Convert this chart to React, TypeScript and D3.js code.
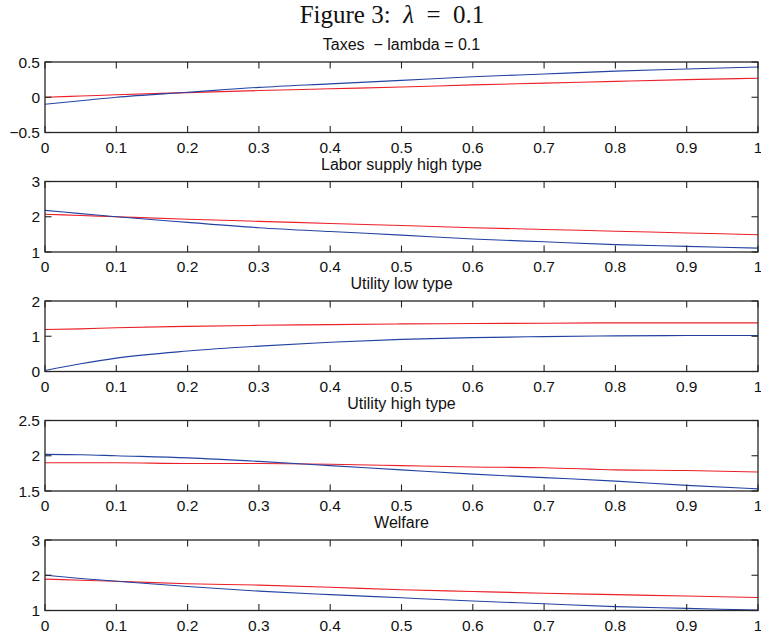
import * as d3 from "d3";
import { useEffect } from "react";

const xs = [0, 0.05, 0.1, 0.2, 0.3, 0.4, 0.5, 0.6, 0.7, 0.8, 0.9, 1];
const xTicks = [0, 0.1, 0.2, 0.3, 0.4, 0.5, 0.6, 0.7, 0.8, 0.9, 1];

const panelTitles = [
  "Taxes  \u2212 lambda = 0.1",
  "Labor supply high type",
  "Utility low type",
  "Utility high type",
  "Welfare",
];
const yDomains: [number, number][] = [
  [-0.5, 0.5],
  [1, 3],
  [0, 2],
  [1.5, 2.5],
  [1, 3],
];
const yTicks = [
  [-0.5, 0, 0.5],
  [1, 2, 3],
  [0, 1, 2],
  [1.5, 2, 2.5],
  [1, 2, 3],
];

const taxesBlue = [-0.1, -0.05, 0.0, 0.07, 0.14, 0.19, 0.24, 0.29, 0.33, 0.37, 0.4, 0.43];
const taxesRed = [0, 0.017, 0.035, 0.065, 0.095, 0.12, 0.145, 0.175, 0.2, 0.225, 0.25, 0.27];
const laborBlue = [2.18, 2.09, 2.0, 1.84, 1.69, 1.58, 1.48, 1.37, 1.29, 1.21, 1.16, 1.11];
const laborRed = [2.07, 2.035, 2.0, 1.93, 1.87, 1.81, 1.75, 1.69, 1.64, 1.59, 1.54, 1.49];
const utilLowBlue = [0.03, 0.22, 0.38, 0.58, 0.72, 0.83, 0.91, 0.96, 0.99, 1.01, 1.02, 1.02];
const utilLowRed = [1.19, 1.21, 1.24, 1.28, 1.31, 1.33, 1.35, 1.36, 1.37, 1.38, 1.38, 1.38];
const utilHighBlue = [2.02, 2.015, 2.0, 1.97, 1.92, 1.86, 1.8, 1.74, 1.69, 1.64, 1.58, 1.53];
const utilHighRed = [1.9, 1.9, 1.9, 1.89, 1.89, 1.88, 1.86, 1.84, 1.83, 1.8, 1.79, 1.77];
const welfareBlue = [2.0, 1.91, 1.83, 1.68, 1.55, 1.45, 1.36, 1.27, 1.19, 1.11, 1.06, 1.01];
const welfareRed = [1.89, 1.86, 1.83, 1.76, 1.72, 1.66, 1.59, 1.54, 1.49, 1.45, 1.41, 1.37];

const blueSeries = [taxesBlue, laborBlue, utilLowBlue, utilHighBlue, welfareBlue];
const redSeries = [taxesRed, laborRed, utilLowRed, utilHighRed, welfareRed];

const BLUE = "#2343a3";
const RED = "#ec2028";
const AXIS = "#262626";
const sans = "'Liberation Sans', Arial, Helvetica, sans-serif";

const width = 761;
const height = 638;
const plotLeft = 45;
const plotRight = 758;
const firstTop = 62;
const panelStep = 119.5;
const panelHeight = 70.5;
const tickLen = 6.5;

const fmt = d3.format("");

export default function App() {
  useEffect(() => {
    document.body.style.margin = "0";
  }, []);

  const x = d3.scaleLinear().domain([0, 1]).range([plotLeft, plotRight]);

  return (
    <svg width={width} height={height} style={{ display: "block", background: "#fff" }}>
      <text
        x={392}
        y={23}
        textAnchor="middle"
        fontFamily="'Liberation Serif', 'DejaVu Serif', serif"
        fontSize={25}
        fill="#111"
        style={{ whiteSpace: "pre" }}
      >
        {"Figure 3:  "}
        <tspan fontStyle="italic">{"\u03bb"}</tspan>
        {"  =  0.1"}
      </text>
      {panelTitles.map((title, i) => {
        const top = firstTop + i * panelStep;
        const bottom = top + panelHeight;
        const y = d3.scaleLinear().domain(yDomains[i]).range([bottom, top]);
        const line = d3
          .line<number>()
          .x((_, j) => x(xs[j]))
          .y((d) => y(d))
          .curve(d3.curveMonotoneX);
        return (
          <g key={title}>
            <text
              x={(plotLeft + plotRight) / 2}
              y={top - 12}
              textAnchor="middle"
              fontFamily={sans}
              fontSize={16}
              fill="#111"
              style={{ whiteSpace: "pre" }}
            >
              {title}
            </text>
            <path d={line(redSeries[i]) ?? ""} fill="none" stroke={RED} strokeWidth={1.1} />
            <path d={line(blueSeries[i]) ?? ""} fill="none" stroke={BLUE} strokeWidth={1.1} />
            <rect
              x={plotLeft}
              y={top}
              width={plotRight - plotLeft}
              height={panelHeight}
              fill="none"
              stroke={AXIS}
              strokeWidth={1.3}
            />
            {xTicks.map((t) => (
              <g key={t}>
                <line x1={x(t)} x2={x(t)} y1={bottom} y2={bottom - tickLen} stroke={AXIS} strokeWidth={1.1} />
                <line x1={x(t)} x2={x(t)} y1={top} y2={top + tickLen} stroke={AXIS} strokeWidth={1.1} />
                <text
                  x={x(t)}
                  y={bottom + 20}
                  textAnchor="middle"
                  fontFamily={sans}
                  fontSize={15.5}
                  fill="#111"
                >
                  {fmt(t)}
                </text>
              </g>
            ))}
            {yTicks[i].map((t) => (
              <g key={t}>
                <line x1={plotLeft} x2={plotLeft + tickLen} y1={y(t)} y2={y(t)} stroke={AXIS} strokeWidth={1.1} />
                <line x1={plotRight} x2={plotRight - tickLen} y1={y(t)} y2={y(t)} stroke={AXIS} strokeWidth={1.1} />
                <text
                  x={plotLeft - 5}
                  y={y(t)}
                  dy="0.36em"
                  textAnchor="end"
                  fontFamily={sans}
                  fontSize={15.5}
                  fill="#111"
                >
                  {fmt(t)}
                </text>
              </g>
            ))}
          </g>
        );
      })}
    </svg>
  );
}
